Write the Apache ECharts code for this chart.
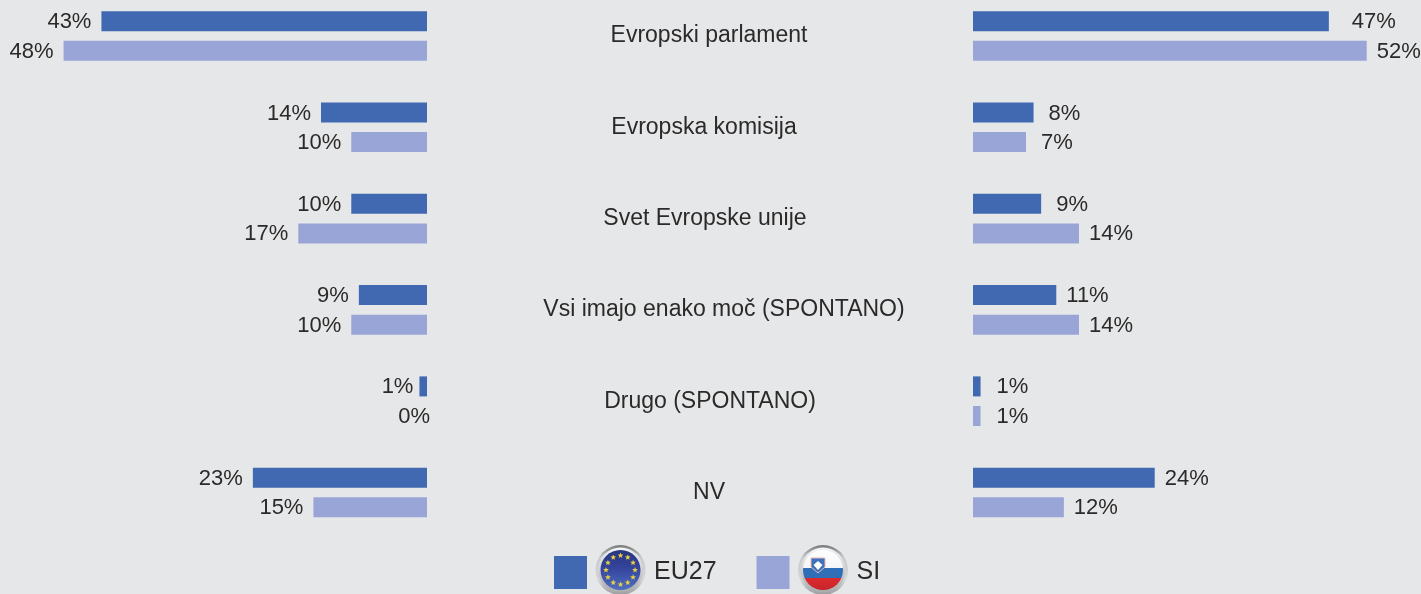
<!DOCTYPE html>
<html><head><meta charset="utf-8">
<style>html,body{margin:0;padding:0;background:#e6e7e9}#c{width:1421px;height:594px}</style>
<script src="https://cdn.jsdelivr.net/npm/echarts@6/dist/echarts.min.js"></script>
</head><body><div id="c"></div>
<script>
const categories = ['Evropski parlament','Evropska komisija','Svet Evropske unije','Vsi imajo enako moč (SPONTANO)','Drugo (SPONTANO)','NV'];
const seriesNames = ['EU27','SI'];
const leftEU27 = [43,14,10,9,1,23];
const leftSI = [48,10,17,10,0,15];
const rightEU27 = [47,8,9,11,1,24];
const rightSI = [52,7,14,14,1,12];
// small per-label nudges in px (style only)
const nudgeLeftEU27 = [0,0,0,0,4,0];
const nudgeLeftSI = [0,0,0,0,13,0];
const nudgeRightEU27 = [13,5,5,0,6,0];
const nudgeRightSI = [0,5,0,0,6,0];
const catShiftX = [0,-5,-4,15,1,0];
const catShiftUp = [2,2,2,2,1,0];

const TXT='#2b2a29', C1='#4169b2', C2='#99a5d6', FONT='"Liberation Sans", Arial, sans-serif';
const chart = echarts.init(document.getElementById('c'), null, {renderer:'canvas'});

function bar(name, vals, nudge, gi, side){
  return {
    type:'bar', name, xAxisIndex:gi, yAxisIndex:gi, barWidth:20, barGap:'48%',
    itemStyle:{color:name==='EU27'?C1:C2}, silent:true,
    label:{show:true, position:side, distance:10, color:TXT, fontFamily:FONT, fontSize:22, formatter:'{c}%'},
    data: vals.map((v,i)=>({value:v,label:{offset:[nudge[i],1]}}))
  };
}
function star(cx,cy,r){
  const p=[];
  for(let i=0;i<10;i++){const a=-Math.PI/2+i*Math.PI/5, q=i%2?r*0.45:r; p.push([cx+q*Math.cos(a),cy+q*Math.sin(a)]);}
  return {type:'polygon',silent:true,shape:{points:p},style:{fill:'#e6cf45'}};
}
const ring = cx => [
  {type:'circle',silent:true,shape:{cx,cy:570,r:25},style:{fill:new echarts.graphic.LinearGradient(0,0,0,1,[{offset:0,color:'#77787a'},{offset:.25,color:'#c9cacc'},{offset:.7,color:'#d4d5d7'},{offset:1,color:'#9a9b9d'}])}},
  {type:'circle',silent:true,shape:{cx,cy:570,r:22.5},style:{fill:new echarts.graphic.LinearGradient(0,0,0,1,[{offset:0,color:'#f4f5f6'},{offset:1,color:'#a9aaac'}])}}
];
const euG=[...ring(620.5),
  {type:'circle',silent:true,shape:{cx:620.5,cy:570,r:20},style:{fill:new echarts.graphic.LinearGradient(0,0,0,1,[{offset:0,color:'#28357f'},{offset:.45,color:'#34449c'},{offset:1,color:'#4f6fbf'}])}}];
for(let i=0;i<12;i++){const a=i*Math.PI/6; euG.push(star(620.5+14.5*Math.cos(a),570+14.5*Math.sin(a),3));}
const siG=[...ring(823),
  {type:'circle',silent:true,shape:{cx:823,cy:570,r:20},style:{fill:new echarts.graphic.LinearGradient(0,0,0,1,[
    {offset:0,color:'#ffffff'},{offset:.45,color:'#f4f6f8'},{offset:.45,color:'#2f6fb8'},{offset:.7,color:'#2f6fb8'},{offset:.7,color:'#dc2a2e'},{offset:1,color:'#c6252a'}])}},
  {type:'polygon',silent:true,shape:{points:[[811,558],[825,558],[825,567],[818,573],[811,567]]},style:{fill:'#3d72ba',stroke:'#e9b9b9',lineWidth:1}},
  {type:'polygon',silent:true,shape:{points:[[813.5,565],[818,561],[822.5,565],[818,570]]},style:{fill:'#ffffff'}}
];

const catData = categories.map((c,i)=>{
  const dx=catShiftX[i];
  return {value:c,textStyle:{align:'center',padding:[0,dx<0?-2*dx:0,2*catShiftUp[i],dx>0?2*dx:0]}};
});
const xBase = {type:'value', min:0, max:56, show:false};
const yBase = {type:'category', inverse:true, boundaryGap:false, axisLine:{show:false}, axisTick:{show:false}};
chart.setOption({
  animation:false, backgroundColor:'#e6e7e9',
  grid:[
    {left:3, width:424, top:36, height:456.5},
    {left:973, width:424, top:36, height:456.5}
  ],
  xAxis:[{...xBase, gridIndex:0, inverse:true},{...xBase, gridIndex:1}],
  yAxis:[
    {...yBase, data:catData, gridIndex:0, position:'right', axisLabel:{show:true, interval:0, margin:282, fontFamily:FONT, fontSize:23, color:TXT}},
    {...yBase, data:categories, gridIndex:1, axisLabel:{show:false}}
  ],
  legend:{left:554, top:556, padding:0, itemWidth:33, itemHeight:33, itemGap:40, icon:'rect', selectedMode:false,
    data:seriesNames, textStyle:{fontFamily:FONT, fontSize:25, color:TXT, padding:[3,0,0,62]}},
  series:[
    bar('EU27',leftEU27,nudgeLeftEU27,0,'left'),
    bar('SI',leftSI,nudgeLeftSI,0,'left'),
    bar('EU27',rightEU27,nudgeRightEU27,1,'right'),
    bar('SI',rightSI,nudgeRightSI,1,'right')
  ],
  graphic:[{type:'group',silent:true,children:euG},{type:'group',silent:true,children:siG}]
});
</script></body></html>
